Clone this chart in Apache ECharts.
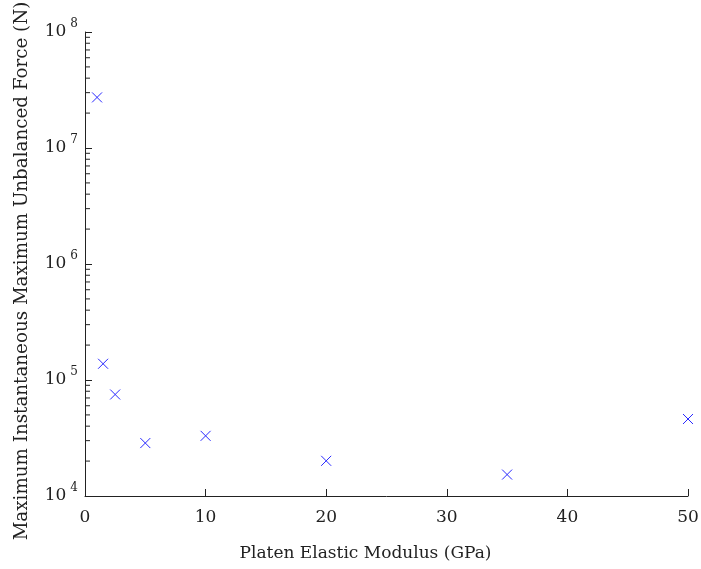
<!DOCTYPE html>
<html><head><meta charset="utf-8">
<script src="https://cdn.jsdelivr.net/npm/echarts@6/dist/echarts.min.js"></script>
<style>html,body{margin:0;padding:0;background:#fff}#c{width:701px;height:569px}</style>
</head><body><div id="c"></div>
<script>
const modulusGPa = [1, 1.5, 2.5, 5, 10, 20, 35, 50];
const maxForceN = [2.73e7, 1.38e5, 7.5e4, 2.86e4, 3.3e4, 2.01e4, 1.53e4, 4.61e4];
const xTicks = [0, 10, 20, 30, 40, 50];
const yDecades = [4, 5, 6, 7, 8];
const minorMultipliers = [2, 3, 4, 5, 6, 7, 8, 9];

const minorTickValues = [];
for (let d = yDecades[0]; d < yDecades[yDecades.length - 1]; d++) {
  for (const m of minorMultipliers) minorTickValues.push([0, m * Math.pow(10, d)]);
}

const FONT = '"DejaVu Serif", serif';
const chart = echarts.init(document.getElementById('c'), null, {renderer: 'canvas'});
chart.setOption({
  backgroundColor: '#fff',
  animation: false,
  grid: {left: 85, right: 13, top: 32, bottom: 73, containLabel: false, outerBoundsMode: 'none'},
  xAxis: {
    type: 'value', min: xTicks[0], max: xTicks[xTicks.length - 1], interval: 10,
    name: 'Platen Elastic Modulus (GPa)', nameLocation: 'middle', nameGap: 49,
    nameTextStyle: {fontFamily: FONT, fontSize: 17, color: '#222', padding: [0, 42, 0, 0]},
    axisLine: {lineStyle: {color: '#222', width: 1}},
    axisTick: {inside: true, length: 7, lineStyle: {color: '#222'}},
    axisLabel: {fontFamily: FONT, fontSize: 17, color: '#222', margin: 13},
    splitLine: {show: false}
  },
  yAxis: {
    type: 'log', logBase: 10, min: Math.pow(10, yDecades[0]), max: Math.pow(10, yDecades[yDecades.length - 1]),
    interval: 1,
    name: 'Maximum Instantaneous Maximum Unbalanced Force (N)', nameLocation: 'middle', nameGap: 54,
    nameTextStyle: {fontFamily: FONT, fontSize: 18.3, color: '#222', padding: [0, 14, 0, 0]},
    axisLine: {show: true, lineStyle: {color: '#222', width: 1}},
    axisTick: {show: true, inside: true, length: 7, lineStyle: {color: '#222'}},
    axisLabel: {
      margin: 7,
      formatter: function (v) {
        const e = Math.round(Math.log10(v));
        return '{b|10}{s|' + e + '}';
      },
      rich: {
        b: {fontFamily: FONT, fontSize: 17, color: '#222'},
        s: {fontFamily: FONT, fontSize: 12, color: '#222', padding: [0, 0, 17, 4]}
      }
    },
    splitLine: {show: false}
  },
  series: [
    {
      type: 'scatter',
      data: modulusGPa.map((x, i) => [x, maxForceN[i]]),
      symbol: 'path://M0,0L10,10M10,0L0,10',
      symbolSize: 10,
      itemStyle: {color: 'none', borderColor: '#2a2aff', borderWidth: 1, opacity: 1}
    },
    {
      type: 'custom',
      silent: true,
      clip: false,
      data: minorTickValues,
      renderItem: function (params, api) {
        const p = api.coord([api.value(0), api.value(1)]);
        return {
          type: 'line',
          shape: {x1: p[0], y1: p[1], x2: p[0] + 5, y2: p[1]},
          style: {stroke: '#222', lineWidth: 1}
        };
      }
    }
  ]
});
</script></body></html>
